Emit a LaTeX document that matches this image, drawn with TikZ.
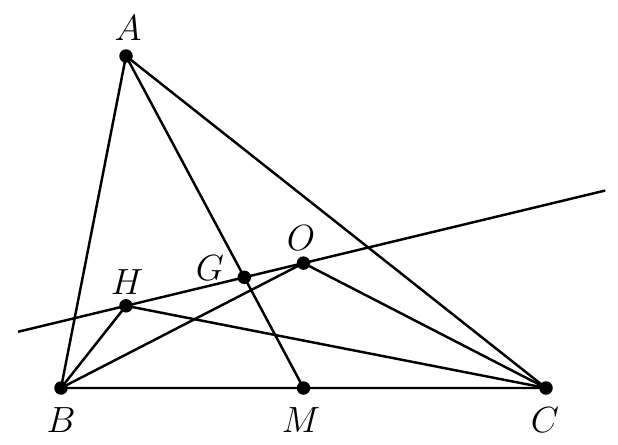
\documentclass[tikz,border=0pt]{standalone}
\usetikzlibrary{calc}
\begin{document}
\begin{tikzpicture}[x=0.02cm,y=-0.02cm,
  seg/.style={line width=1.4pt},
  dot/.style={circle,fill=black,inner sep=0pt,minimum size=0.27cm},
  lab/.style={font=\fontsize{22}{24}\selectfont,inner sep=0pt}]
\useasboundingbox (0,0) rectangle (618,444);
\coordinate (A) at (126,56);
\coordinate (B) at (61,388);
\coordinate (C) at (546,388);
\coordinate (M) at (303.5,388);
\coordinate (O) at (303.5,263.1);
\coordinate (G) at (244.3,277.3);
\coordinate (H) at (126,305.8);
\coordinate (E1) at ($(H)!-0.608!(O)$);
\coordinate (E2) at ($(H)!2.7!(O)$);
\draw[seg] (E1) -- (E2);
\draw[seg] (A) -- (B) -- (C) -- cycle;
\draw[seg] (A) -- (M);
\draw[seg] (B) -- (H) -- (C);
\draw[seg] (B) -- (O) -- (C);
\foreach \p in {A,B,C,M,O,G,H} \node[dot] (d\p) at (\p) {};
\node[lab] (lA) at (128,28) {$A$};
\node[lab] (lB) at (61,420) {$B$};
\node[lab] (lC) at (545,420) {$C$};
\node[lab] (lM) at (301,420) {$M$};
\node[lab] (lH) at (127,282) {$H$};
\node[lab] (lG) at (210,268) {$G$};
\node[lab] (lO) at (301,238) {$O$};
\end{tikzpicture}
\end{document}
